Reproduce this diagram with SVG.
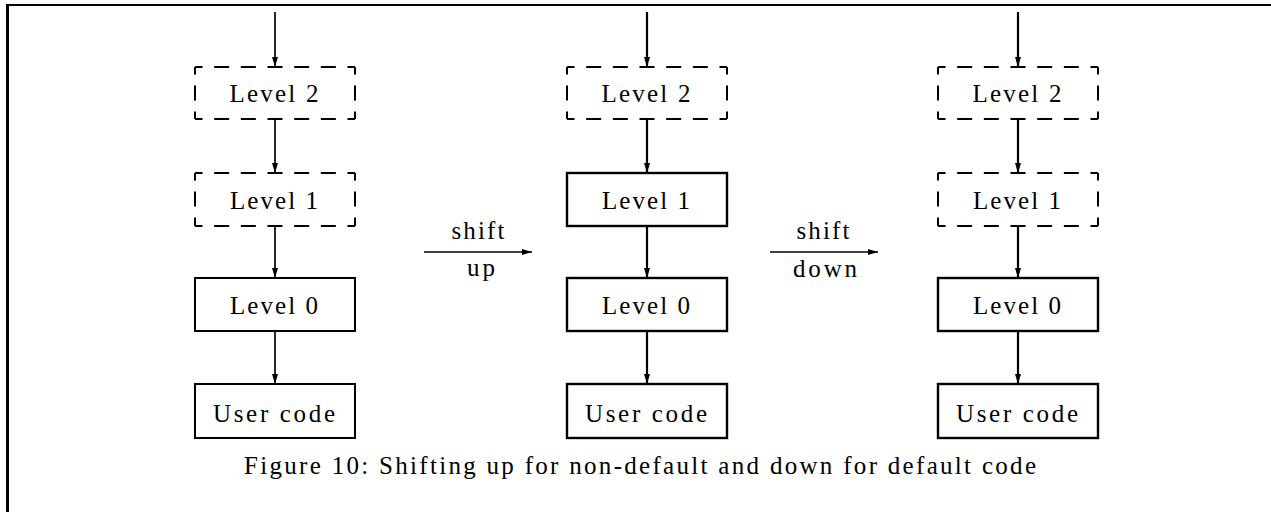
<svg xmlns="http://www.w3.org/2000/svg" width="1271" height="512" viewBox="0 0 1271 512">
<style>
text{font-family:"Liberation Serif","DejaVu Serif",serif;font-size:25px;fill:#000;text-anchor:middle}
.solid{fill:#fff;stroke:#000;stroke-width:2}
.solid.b{stroke-width:2.4}
.dh{stroke:#000;stroke-width:2;stroke-dasharray:15 11.67;stroke-dashoffset:7.5;fill:none}
.dv{stroke:#000;stroke-width:2;stroke-dasharray:15 11;stroke-dashoffset:7.5;fill:none}
.conn line{stroke:#000;stroke-width:2.2;marker-end:url(#ah)}
.conn line.c1{stroke-width:1.7}
.conn line.thin{stroke-width:1.5}
</style>
<defs>
<marker id="ah" viewBox="0 0 10 6" refX="10" refY="3" markerWidth="10" markerHeight="6" markerUnits="userSpaceOnUse" orient="auto">
<path d="M0,0 L10,3 L0,6 Z" fill="#000"/>
</marker>
</defs>
<rect width="1271" height="512" fill="#fff"/>
<g id="frame">
<line x1="6" y1="5" x2="1271" y2="5" stroke="#000" stroke-width="2"/>
<line x1="7.5" y1="4" x2="7.5" y2="512" stroke="#000" stroke-width="3"/>
</g>
<g class="conn" id="connectors">
<line class="c1" x1="275" y1="12" x2="275" y2="67"/>
<line class="c1" x1="275" y1="119" x2="275" y2="173"/>
<line class="c1" x1="275" y1="226" x2="275" y2="278"/>
<line class="c1" x1="275" y1="331" x2="275" y2="384"/>
<line x1="647" y1="12" x2="647" y2="67"/>
<line x1="647" y1="119" x2="647" y2="173"/>
<line x1="647" y1="226" x2="647" y2="278"/>
<line x1="647" y1="331" x2="647" y2="384"/>
<line x1="1018" y1="12" x2="1018" y2="67"/>
<line x1="1018" y1="119" x2="1018" y2="173"/>
<line x1="1018" y1="226" x2="1018" y2="278"/>
<line x1="1018" y1="331" x2="1018" y2="384"/>
<line class="thin" x1="424" y1="252" x2="532" y2="252"/>
<line class="thin" x1="770" y1="252" x2="878" y2="252"/>
</g>
<g id="c1-level2">
<line class="dh" x1="195" y1="67" x2="355" y2="67"/><line class="dh" x1="195" y1="119" x2="355" y2="119"/>
<line class="dv" x1="195" y1="67" x2="195" y2="119"/><line class="dv" x1="355" y1="67" x2="355" y2="119"/>
<text x="274" y="102" textLength="89" lengthAdjust="spacing">Level 2</text>
</g>
<g id="c1-level1">
<line class="dh" x1="195" y1="173" x2="355" y2="173"/><line class="dh" x1="195" y1="226" x2="355" y2="226"/>
<line class="dv" x1="195" y1="173" x2="195" y2="226"/><line class="dv" x1="355" y1="173" x2="355" y2="226"/>
<text x="274" y="209" textLength="88" lengthAdjust="spacing">Level 1</text>
</g>
<g id="c1-level0"><rect class="solid" x="195" y="278" width="160" height="53"/><text x="274" y="314" textLength="88" lengthAdjust="spacing">Level 0</text></g>
<g id="c1-user"><rect class="solid" x="195" y="384" width="160" height="54"/><text x="274" y="422" textLength="122" lengthAdjust="spacing">User code</text></g>

<g id="shift-up"><text x="478" y="239" textLength="53" lengthAdjust="spacing">shift</text><text x="481" y="276" textLength="28" lengthAdjust="spacing">up</text></g>

<g id="c2-level2">
<line class="dh" x1="567" y1="67" x2="727" y2="67"/><line class="dh" x1="567" y1="119" x2="727" y2="119"/>
<line class="dv" x1="567" y1="67" x2="567" y2="119"/><line class="dv" x1="727" y1="67" x2="727" y2="119"/>
<text x="646" y="102" textLength="89" lengthAdjust="spacing">Level 2</text>
</g>
<g id="c2-level1"><rect class="solid b" x="567" y="173" width="160" height="53"/><text x="646" y="209" textLength="88" lengthAdjust="spacing">Level 1</text></g>
<g id="c2-level0"><rect class="solid b" x="567" y="278" width="160" height="53"/><text x="646" y="314" textLength="88" lengthAdjust="spacing">Level 0</text></g>
<g id="c2-user"><rect class="solid b" x="567" y="384" width="160" height="54"/><text x="646" y="422" textLength="122" lengthAdjust="spacing">User code</text></g>

<g id="shift-down"><text x="823" y="239" textLength="53" lengthAdjust="spacing">shift</text><text x="825" y="277" textLength="64" lengthAdjust="spacing">down</text></g>

<g id="c3-level2">
<line class="dh" x1="938" y1="67" x2="1098" y2="67"/><line class="dh" x1="938" y1="119" x2="1098" y2="119"/>
<line class="dv" x1="938" y1="67" x2="938" y2="119"/><line class="dv" x1="1098" y1="67" x2="1098" y2="119"/>
<text x="1017" y="102" textLength="89" lengthAdjust="spacing">Level 2</text>
</g>
<g id="c3-level1">
<line class="dh" x1="938" y1="173" x2="1098" y2="173"/><line class="dh" x1="938" y1="226" x2="1098" y2="226"/>
<line class="dv" x1="938" y1="173" x2="938" y2="226"/><line class="dv" x1="1098" y1="173" x2="1098" y2="226"/>
<text x="1017" y="209" textLength="88" lengthAdjust="spacing">Level 1</text>
</g>
<g id="c3-level0"><rect class="solid b" x="938" y="278" width="160" height="53"/><text x="1017" y="314" textLength="88" lengthAdjust="spacing">Level 0</text></g>
<g id="c3-user"><rect class="solid b" x="938" y="384" width="160" height="54"/><text x="1017" y="422" textLength="122" lengthAdjust="spacing">User code</text></g>

<g id="caption"><text x="640" y="474" textLength="792" lengthAdjust="spacing">Figure 10: Shifting up for non-default and down for default code</text></g>
</svg>
